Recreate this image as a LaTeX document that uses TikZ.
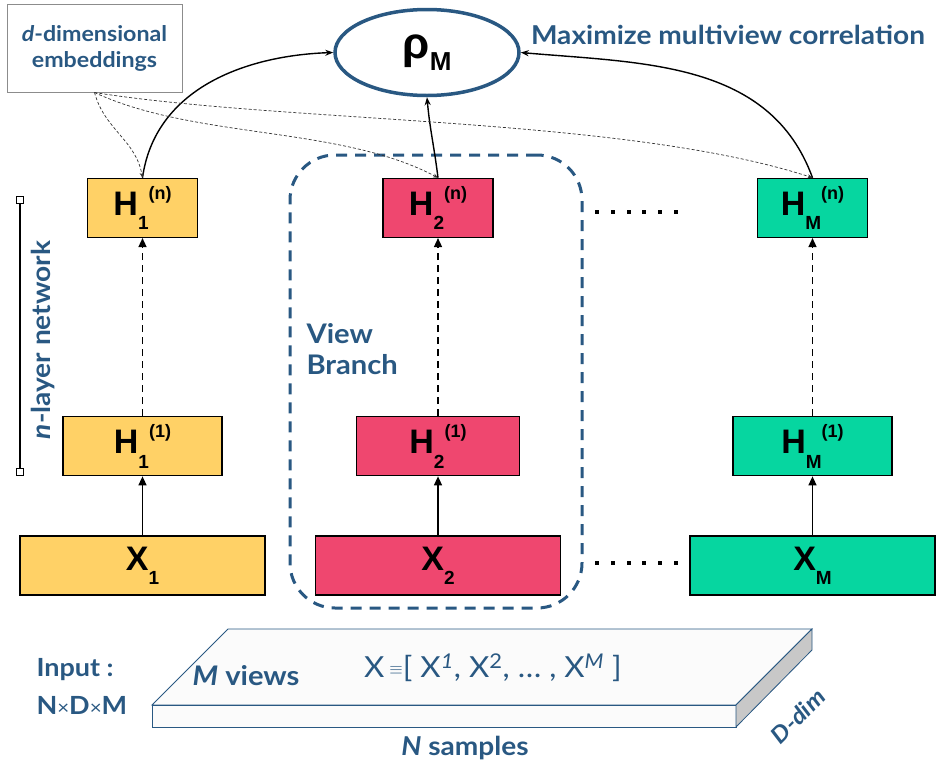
\documentclass[tikz,border=0pt]{standalone}
\usepackage{fontspec}
\setmainfont{Liberation Sans}
\newfontfamily\labelfont[FakeStretch=1.08]{Lato}
\usetikzlibrary{arrows.meta, positioning, shapes.geometric}

\definecolor{viewblue}{RGB}{41,88,130}
\definecolor{sunglow}{RGB}{255,209,102}
\definecolor{paradise}{RGB}{239,71,111}
\definecolor{caribbean}{RGB}{6,214,160}
\definecolor{slabtop}{RGB}{251,251,251}
\definecolor{slabside}{RGB}{200,200,200}

\newcommand{\fsz}[1]{\fontsize{#1}{#1}\selectfont}
\newcommand{\layerlab}[3]{#1\raisebox{-0.42em}{\fsz{19}#2}\raisebox{0.48em}{\fsz{18}#3}}

\begin{document}
\begin{tikzpicture}[x=1pt, y=-1pt, node distance=59pt,
  every node/.style={font=\fsz{34}\bfseries},
  layer/.style={draw, line width=1.3pt, minimum height=59pt, inner sep=0pt},
  bluelabel/.style={text=viewblue, font=\labelfont\bfseries\fsz{#1}},
  flow/.style={-{Triangle[length=9pt,width=8pt]}, line width=1.4pt},
  merge/.style={-{Stealth[length=8pt,width=6pt]}, line width=1.4pt},
  embedline/.style={-{Stealth[length=5pt,width=4pt]}, black!80, line width=0.7pt, dash pattern=on 3pt off 2pt}]

  \useasboundingbox (0,0) rectangle (946,772);

  % Nodes
  \node[layer, fill=sunglow, minimum width=245pt] (x1) at (142.5,565.5) {\layerlab{X}{1}{}};
  \node[layer, fill=paradise, minimum width=245pt] (x2) at (438,565.5) {\layerlab{X}{2}{}};
  \node[layer, fill=caribbean, minimum width=245pt] (xm) at (812.5,565.5) {\layerlab{X}{M}{}};
  \node[layer, fill=sunglow, minimum width=159pt, above=of x1] (h1a) {\layerlab{H}{1}{(1)}};
  \node[layer, fill=paradise, minimum width=163pt, above=of x2] (h2a) {\layerlab{H}{2}{(1)}};
  \node[layer, fill=caribbean, minimum width=159pt, above=of xm] (hma) {\layerlab{H}{M}{(1)}};
  \node[layer, fill=sunglow, minimum width=110pt, above=178pt of h1a] (h1n) {\layerlab{H}{1}{(n)}};
  \node[layer, fill=paradise, minimum width=110pt, above=178pt of h2a] (h2n) {\layerlab{H}{2}{(n)}};
  \node[layer, fill=caribbean, minimum width=110pt, above=178pt of hma] (hmn) {\layerlab{H}{M}{(n)}};

  \node[ellipse, draw=viewblue, line width=3.5pt, minimum width=184pt, minimum height=86pt, inner sep=0pt] (rho) at (427,52.5) {\fsz{44}ρ\raisebox{-0.28em}{\fsz{26}M}};
  \node[bluelabel=26] (goal) at (728,35) {Maximize multiview correlation};
  \node[draw=black!45, line width=1pt, minimum width=175pt, minimum height=88pt, align=center, bluelabel=21.5] (embed) at (94.5,48) {\textit{d}-dimensional\\[4.5pt]embeddings};

  \node[draw=viewblue, line width=3pt, dash pattern=on 11pt off 8pt, rounded corners=45pt, minimum width=292pt, minimum height=453pt] (branch) at (436,381.5) {};
  \node[bluelabel=27, align=left, anchor=west] (branchlab) at (303,349) {View\\[4pt]Branch};

  \node[draw, fill=white, line width=1pt, minimum size=7pt, inner sep=0pt] (nettop) at (20,200) {};
  \node[draw, fill=white, line width=1pt, minimum size=7pt, inner sep=0pt] (netbot) at (20,472) {};
  \node[bluelabel=26, rotate=90] (netlab) at (43,340) {\textit{n}-layer network};

  \foreach \i in {0,...,5} {
    \fill (597+\i*15.8,212) +(-2,-2) rectangle +(2,2);
    \fill (597+\i*15.8,563) +(-2,-2) rectangle +(2,2);
  }

  % Input slab
  \filldraw[fill=slabtop, draw=viewblue, line width=0.8pt] (152,705) -- (228,629) -- (812,629) -- (736,705) -- cycle;
  \filldraw[fill=slabtop, draw=viewblue, line width=0.8pt] (152,705) rectangle (736,727);
  \filldraw[fill=slabside, draw=viewblue, line width=0.8pt] (736,705) -- (812,629) -- (812,650) -- (736,727) -- cycle;
  \node[bluelabel=27] (views) at (246,676) {\textit{M} views};
  \node[text=viewblue, font=\labelfont\fsz{29}] (formula) at (493,668) {X\,\raisebox{0.1em}{\fsz{16}$\equiv$}[ X\textsuperscript{\textit{1}}, X\textsuperscript{2}, \dots\ , X\textsuperscript{\textit{M}} ]};
  \node[bluelabel=26] (samples) at (465,748) {\textit{N} samples};
  \node[bluelabel=23, rotate=45, inner sep=0pt] (ddim) at (798,716) {\textit{D-dim}};
  \node[bluelabel=25, align=left, anchor=west] (input) at (33,686) {Input :\\[13pt]N{\mdseries\fsz{19}×}D{\mdseries\fsz{19}×}M};

  % Edges
  \draw[flow] (x1) -- (h1a);
  \draw[flow] (x2) -- (h2a);
  \draw[flow] (xm) -- (hma);
  \draw[flow, dash pattern=on 7pt off 5pt] (h1a) -- (h1n);
  \draw[flow, dash pattern=on 7pt off 5pt] (h2a) -- (h2n);
  \draw[flow, dash pattern=on 7pt off 5pt] (hma) -- (hmn);
  \draw[merge] (h1n.north) to[out=82, in=182] (rho.west);
  \draw[merge] (h2n.north) to[out=97, in=-85] (rho.south);
  \draw[merge] (hmn.north) to[out=110, in=-5] (rho.east);
  \draw[embedline] (embed.south) to[out=-75, in=100] (h1n.north);
  \draw[embedline] (embed.south) to[out=-25, in=152, looseness=0.8] (h2n.north);
  \draw[embedline] (embed.south) to[out=-9, in=162, looseness=0.7] (hmn.north);
  \draw[line width=1.4pt] (nettop) -- (netbot);
\end{tikzpicture}
\end{document}
